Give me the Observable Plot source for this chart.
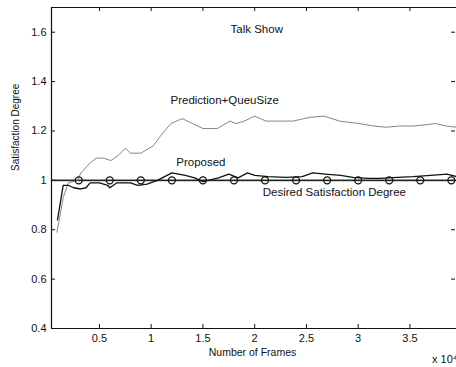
<!DOCTYPE html>
<html>
<head>
<meta charset="utf-8">
<script src="https://cdn.jsdelivr.net/npm/d3@7"></script>
<script src="https://cdn.jsdelivr.net/npm/@observablehq/plot@0.6"></script>
<style>
  html, body { margin: 0; padding: 0; background: #fff; }
  #chart svg { display: block; }
</style>
</head>
<body>
<div id="chart"></div>
<script>
// x in units of 10^4 frames
const xTicks = [0.5, 1, 1.5, 2, 2.5, 3, 3.5];
const yTicks = [0.4, 0.6, 0.8, 1, 1.2, 1.4, 1.6];
const xDomain = [0.037, 3.95];
const yDomain = [0.4, 1.7];

const predX = [0.09,0.15,0.2,0.29,0.32,0.41,0.47,0.54,0.61,0.68,0.75,0.8,0.9,1.02,1.09,1.19,1.3,1.4,1.5,1.64,1.76,1.82,1.9,2.0,2.11,2.2,2.37,2.53,2.67,2.82,3.01,3.15,3.27,3.4,3.53,3.65,3.75,3.85,3.95];
const predY = [0.79,0.93,0.99,1.0,1.03,1.07,1.09,1.09,1.08,1.1,1.13,1.11,1.11,1.14,1.18,1.23,1.25,1.23,1.21,1.21,1.24,1.23,1.24,1.26,1.24,1.24,1.24,1.255,1.26,1.24,1.23,1.22,1.215,1.22,1.22,1.225,1.23,1.22,1.215];

const propX = [0.095,0.15,0.2,0.25,0.32,0.37,0.41,0.5,0.58,0.6,0.67,0.8,0.87,0.96,1.06,1.2,1.33,1.42,1.5,1.65,1.75,1.84,1.93,2.0,2.13,2.3,2.46,2.56,2.68,2.83,2.95,3.09,3.21,3.38,3.53,3.7,3.86,3.95];
const propY = [0.84,0.98,0.98,0.97,0.965,0.97,0.99,0.99,0.98,0.97,0.99,0.99,0.98,0.985,1.0,1.03,1.02,1.01,0.995,1.01,1.025,1.01,1.03,1.02,1.015,1.012,1.015,1.03,1.025,1.02,1.012,1.008,1.008,1.012,1.015,1.02,1.025,1.015];

const desiredValue = 1;
const desiredMarkerX = [0.3,0.6,0.9,1.2,1.5,1.8,2.1,2.4,2.7,3.0,3.3,3.6,3.9];

const annoText = ["Talk Show", "Prediction+QueuSize", "Proposed", "Desired Satisfaction Degree"];
const annoX = [2.02, 1.71, 1.48, 2.77];
const annoY = [1.613, 1.325, 1.073, 0.951];

const pred = predX.map((x, i) => ({x, y: predY[i]}));
const prop = propX.map((x, i) => ({x, y: propY[i]}));
const desiredLine = xDomain.map(x => ({x, y: desiredValue}));
const desiredMarks = desiredMarkerX.map(x => ({x, y: desiredValue}));
const annos = annoText.map((t, i) => ({t, x: annoX[i], y: annoY[i]}));

const W = 456, H = 367, mL = 51, mR = 0, mT = 7, mB = 39;
const plotW = W - mL - mR, plotH = H - mT - mB, tickLen = 4;

const font = "'Liberation Sans', Arial, sans-serif";

const chart = Plot.plot({
  width: W,
  height: H,
  marginLeft: mL,
  marginRight: mR,
  marginTop: mT,
  marginBottom: mB,
  style: {fontFamily: font, fontSize: "11px", color: "#111", background: "#fff"},
  x: {domain: xDomain},
  y: {domain: yDomain},
  marks: [
    Plot.ruleX([xDomain[0]], {stroke: "#111", strokeWidth: 1.2}),
    Plot.ruleY([yDomain[0], yDomain[1]], {stroke: "#111", strokeWidth: 1.2}),
    // tick labels
    Plot.axisX({anchor: "bottom", ticks: xTicks, tickSize: 0, tickPadding: 6, tickFormat: d => String(d), label: null, fontSize: 11}),
    Plot.axisY({anchor: "left", ticks: yTicks, tickSize: 0, tickPadding: 5, tickFormat: d => String(d), label: null, fontSize: 11}),
    // inward tick marks
    Plot.tickX(xTicks, {x: d => d, insetTop: plotH - tickLen, stroke: "#111", strokeWidth: 1}),
    Plot.tickX(xTicks, {x: d => d, insetBottom: plotH - tickLen, stroke: "#111", strokeWidth: 1}),
    Plot.tickY(yTicks, {y: d => d, insetRight: plotW - tickLen, stroke: "#111", strokeWidth: 1}),
    Plot.tickY(yTicks, {y: d => d, insetLeft: plotW - tickLen - 1, insetRight: 1, stroke: "#111", strokeWidth: 1}),
    Plot.line(desiredLine, {x: "x", y: "y", stroke: "#222", strokeWidth: 1.6, strokeDasharray: "2,1"}),
    Plot.line(pred, {x: "x", y: "y", stroke: "#777", strokeWidth: 0.9}),
    Plot.line(prop, {x: "x", y: "y", stroke: "#111", strokeWidth: 1.3}),
    Plot.dot(desiredMarks, {x: "x", y: "y", r: 3.5, stroke: "#111", strokeWidth: 1.3, fill: "none"}),
    Plot.text(annos, {x: "x", y: "y", text: "t", fontSize: 11.5, fill: "#111"}),
    Plot.text(["Satisfaction Degree"], {frameAnchor: "left", text: d => d, rotate: -90, dx: -36, dy: 3, fontSize: 10, fill: "#111"}),
    Plot.text(["Number of Frames"], {frameAnchor: "bottom", text: d => d, dx: -1.5, dy: 27, fontSize: 10.5, fill: "#111"}),
    Plot.text(["x 10\u2074"], {frameAnchor: "bottom-right", text: d => d, textAnchor: "end", dx: 1, dy: 34, fontSize: 11, fill: "#111"})
  ]
});
document.getElementById("chart").appendChild(chart);
</script>
</body>
</html>
